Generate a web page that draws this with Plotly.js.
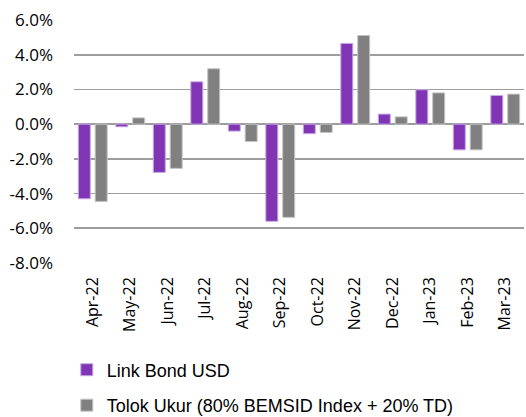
<!DOCTYPE html>
<html>
<head>
<meta charset="utf-8">
<script src="https://cdn.plot.ly/plotly-3.0.1.min.js"></script>
<style>html,body{margin:0;padding:0;background:#fff;}#chart{width:526px;height:417px;}</style>
</head>
<body>
<div id="chart"></div>
<script>
const categories = ["Apr-22","May-22","Jun-22","Jul-22","Aug-22","Sep-22","Oct-22","Nov-22","Dec-22","Jan-23","Feb-23","Mar-23"];
const linkBondUSD = [-4.30, -0.15, -2.78, 2.44, -0.40, -5.60, -0.55, 4.65, 0.58, 1.98, -1.48, 1.65];
const tolokUkur = [-4.45, 0.36, -2.55, 3.19, -1.00, -5.37, -0.48, 5.11, 0.42, 1.80, -1.48, 1.73];
const seriesNames = ["Link Bond USD", "Tolok Ukur (80% BEMSID Index + 20% TD)"];
const yTicks = [-8, -6, -4, -2, 0, 2, 4, 6];

const traces = [
  {type:'bar', x:categories, y:linkBondUSD, name:seriesNames[0], legendgroup:'a',
   marker:{color:'#7f35b4', line:{color:'#c8a8e4', width:1}}, hoverinfo:'skip'},
  {type:'bar', x:categories, y:tolokUkur, name:seriesNames[1], legendgroup:'b',
   marker:{color:'#808080', line:{color:'#c4c4c4', width:1}}, hoverinfo:'skip'}
];

const layout = {
  width:526, height:417,
  margin:{l:74, r:2, t:20, b:154, autoexpand:false},
  paper_bgcolor:'#fff', plot_bgcolor:'#fff',
  barmode:'group', bargap:0.1, bargroupgap:0.29,
  showlegend:true,
  legend:{orientation:'v', xref:'container', yref:'container', x:0.127, y:0.157, xanchor:'left', yanchor:'top',
          font:{family:'Liberation Sans, Arial, sans-serif', size:18, color:'#000'},
          traceorder:'grouped', tracegroupgap:9, bgcolor:'rgba(0,0,0,0)'},
  xaxis:{type:'category', tickangle:-90, showgrid:false, zeroline:false, showline:false, ticks:'',
         ticklabelstandoff:10, automargin:false, tickmode:'array', tickvals:categories,
         tickfont:{family:'Open Sans, sans-serif', size:16, color:'#000'}},
  yaxis:{range:[-8,6], tickvals:yTicks, ticktext:yTicks.map(v=>v.toFixed(1)+'%'), automargin:false,
         showgrid:true, gridcolor:'#9d9d9d', gridwidth:1.6,
         zeroline:true, zerolinecolor:'#9d9d9d', zerolinewidth:1.6,
         showline:false, ticks:'', ticklabelstandoff:20,
         tickfont:{family:'Open Sans, sans-serif', size:17, color:'#000'}}
};

Plotly.newPlot('chart', traces, layout, {staticPlot:true, displayModeBar:false});
</script>
</body>
</html>
